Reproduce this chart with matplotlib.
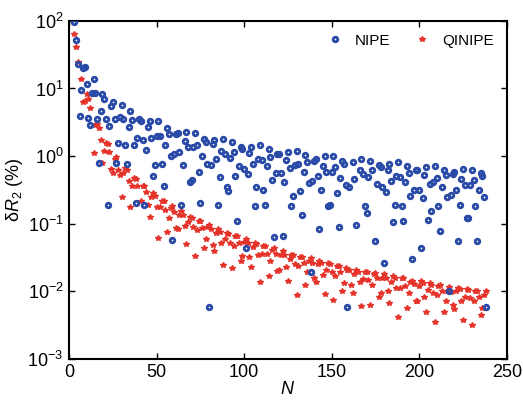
import matplotlib
matplotlib.use('Agg')
import matplotlib.pyplot as plt

plt.rcParams['font.family'] = ['Liberation Sans', 'DejaVu Sans']
plt.rcParams['mathtext.fontset'] = 'custom'
plt.rcParams['mathtext.rm'] = 'Liberation Sans'
plt.rcParams['mathtext.it'] = 'Liberation Sans:italic'

# --- dados (N, deltaR2 em %) ---
n_nipe = [3, 4, 5, 6, 7, 8, 9, 10, 11, 12, 13, 14, 15, 16, 17, 18, 19, 20,
          21, 22, 23, 24, 25, 26, 27, 28, 29, 30, 31, 32, 33, 34, 35, 36, 37,
          38, 39, 40, 41, 42, 43, 44, 45, 46, 47, 48, 49, 50, 51, 52, 53, 54,
          55, 56, 57, 58, 59, 60, 61, 62, 63, 64, 65, 66, 67, 68, 69, 70, 71,
          72, 73, 74, 75, 76, 77, 78, 79, 80, 81, 82, 83, 84, 85, 86, 87, 88,
          89, 90, 91, 92, 93, 94, 95, 96, 97, 98, 99, 100, 101, 102, 103, 104,
          105, 106, 107, 108, 109, 110, 111, 112, 113, 114, 115, 116, 117, 118,
          119, 120, 121, 122, 123, 124, 125, 126, 127, 128, 129, 130, 131, 132,
          133, 134, 135, 136, 137, 138, 139, 140, 141, 142, 143, 144, 145, 146,
          147, 148, 149, 150, 151, 152, 153, 154, 155, 156, 157, 158, 159, 160,
          162, 163, 164, 166, 167, 168, 169, 170, 171, 172, 173, 175, 176, 177,
          178, 179, 180, 181, 182, 183, 184, 185, 186, 187, 188, 189, 190, 191,
          192, 193, 194, 195, 196, 197, 198, 199, 200, 201, 202, 203, 204, 205,
          206, 207, 208, 209, 210, 211, 212, 213, 214, 215, 216, 217, 218, 219,
          220, 221, 222, 223, 224, 225, 226, 227, 228, 229, 230, 231, 232, 233,
          234, 235, 236, 237, 238]
nipe = [95, 52, 23, 3.9, 9.5, 20, 21, 11.5, 3.6, 2.9, 8.5, 14, 8.5, 3.5, 0.79,
        4.7, 8.3, 6.9, 3.5, 0.19, 2.75, 5.5, 6.2, 3.5, 0.79, 1.55, 3.8, 5.6,
        3.5, 1.45, 0.76, 2.7, 4.6, 3.4, 1.45, 0.20, 1.86, 3.5, 3.3, 1.7, 0.19,
        1.23, 2.7, 3.3, 1.86, 0.51, 0.74, 2.0, 3.3, 2.0, 0.76, 0.36, 1.48, 2.6,
        2.1, 1.0, 0.057, 1.07, 2.1, 2.2, 1.15, 0.19, 0.74, 1.66, 2.3, 1.35,
        0.41, 0.45, 1.38, 2.2, 1.48, 0.59, 0.20, 1.0, 1.8, 1.6, 0.76, 0.0059,
        0.74, 1.5, 1.7, 0.91, 0.19, 0.49, 1.2, 1.8, 1.07, 0.35, 0.30, 0.95, 1.6,
        1.15, 0.50, 0.11, 0.72, 1.35, 1.26, 0.65, 0.044, 0.54, 1.12, 1.38, 0.76,
        0.18, 0.35, 0.91, 1.45, 0.87, 0.32, 0.19, 0.72, 1.26, 0.98, 0.44, 0.063,
        0.56, 1.07, 1.07, 0.56, 0.066, 0.41, 0.87, 1.15, 0.66, 0.18, 0.26, 0.74,
        1.2, 0.76, 0.30, 0.135, 0.58, 1.05, 0.83, 0.40, 0.0195, 0.43, 0.85,
        0.91, 0.50, 0.083, 0.32, 0.72, 1.0, 0.59, 0.18, 0.19, 0.59, 1.0, 0.68,
        0.28, 0.089, 0.47, 0.85, 0.76, 0.37, 0.0058, 0.35, 0.83, 0.46, 0.095,
        0.62, 0.89, 0.55, 0.18, 0.145, 0.49, 0.85, 0.62, 0.056, 0.39, 0.74,
        0.69, 0.35, 0.026, 0.29, 0.62, 0.76, 0.43, 0.107, 0.19, 0.51, 0.81,
        0.49, 0.18, 0.11, 0.42, 0.72, 0.56, 0.26, 0.030, 0.32, 0.63, 0.63, 0.32,
        0.043, 0.24, 0.52, 0.69, 0.115, 0.38, 0.155, 0.42, 0.72, 0.47, 0.18,
        0.079, 0.35, 0.63, 0.52, 0.25, 0.010, 0.27, 0.54, 0.59, 0.32, 0.055,
        0.19, 0.46, 0.65, 0.37, 0.12, 0.123, 0.37, 0.63, 0.44, 0.18, 0.056,
        0.31, 0.56, 0.50, 0.245, 0.0058]

n_qinipe = [3, 4, 5, 7, 8, 9, 10, 11, 12, 14, 15, 16, 17, 18, 19, 20, 21, 22,
            23, 24, 25, 26, 27, 28, 29, 30, 31, 32, 33, 34, 35, 36, 37, 38, 39,
            41, 42, 43, 44, 45, 46, 47, 48, 49, 50, 51, 52, 53, 54, 55, 56, 57,
            58, 59, 60, 61, 62, 63, 64, 65, 66, 67, 68, 69, 70, 71, 72, 73, 74,
            75, 76, 77, 78, 79, 80, 81, 82, 83, 84, 85, 86, 87, 88, 89, 90, 91,
            92, 93, 94, 95, 96, 97, 98, 99, 100, 101, 102, 103, 104, 105, 106,
            107, 108, 109, 110, 111, 112, 113, 114, 115, 116, 117, 118, 119,
            120, 121, 122, 123, 124, 125, 126, 127, 128, 129, 130, 131, 132,
            133, 134, 135, 136, 137, 138, 139, 140, 141, 142, 143, 144, 145,
            146, 147, 148, 149, 150, 151, 152, 153, 154, 155, 156, 157, 158,
            159, 160, 161, 162, 163, 164, 165, 166, 167, 168, 169, 170, 171,
            172, 173, 174, 175, 176, 177, 178, 179, 180, 181, 182, 183, 184,
            185, 186, 187, 188, 189, 190, 191, 192, 193, 194, 195, 196, 197,
            198, 199, 200, 201, 202, 203, 204, 205, 206, 207, 208, 209, 210,
            211, 212, 213, 214, 215, 216, 217, 218, 219, 220, 221, 222, 223,
            224, 225, 226, 227, 228, 229, 230, 231, 232, 233, 234, 235, 236,
            237, 238]
qinipe = [65, 41, 25, 14, 6.3, 6.6, 8.3, 7.1, 5.1, 1.12, 2.9, 2.95, 2.6, 1.74,
          0.79, 1.2, 1.55, 1.5, 1.15, 0.65, 0.56, 0.91, 0.98, 0.62, 0.52, 0.245,
          0.56, 0.66, 0.62, 0.43, 0.178, 0.355, 0.47, 0.46, 0.36, 0.22, 0.355,
          0.36, 0.295, 0.186, 0.126, 0.245, 0.28, 0.257, 0.178, 0.062, 0.174,
          0.22, 0.214, 0.162, 0.076, 0.123, 0.17, 0.182, 0.151, 0.085, 0.083,
          0.135, 0.155, 0.135, 0.091, 0.050, 0.107, 0.126, 0.12, 0.089, 0.033,
          0.081, 0.11, 0.11, 0.085, 0.044, 0.059, 0.089, 0.095, 0.083, 0.049,
          0.040, 0.072, 0.083, 0.076, 0.052, 0.0245, 0.059, 0.074, 0.071, 0.052,
          0.0224, 0.046, 0.065, 0.066, 0.052, 0.028, 0.033, 0.054, 0.059, 0.052,
          0.032, 0.023, 0.045, 0.052, 0.050, 0.035, 0.0135, 0.036, 0.047, 0.047,
          0.036, 0.0166, 0.028, 0.041, 0.044, 0.036, 0.020, 0.021, 0.035, 0.040,
          0.035, 0.023, 0.014, 0.030, 0.035, 0.034, 0.025, 0.0089, 0.024, 0.032,
          0.032, 0.026, 0.0126, 0.019, 0.028, 0.031, 0.026, 0.0155, 0.0138,
          0.025, 0.028, 0.026, 0.0174, 0.0091, 0.021, 0.026, 0.025, 0.019,
          0.0074, 0.017, 0.0234, 0.024, 0.0195, 0.0102, 0.0132, 0.022, 0.021,
          0.021, 0.0123, 0.0095, 0.0178, 0.021, 0.0195, 0.0138, 0.006, 0.015,
          0.0195, 0.0195, 0.0148, 0.0063, 0.0123, 0.0178, 0.0186, 0.0155, 0.0083,
          0.0095, 0.0155, 0.0178, 0.0155, 0.0102, 0.0068, 0.0135, 0.0166, 0.0155,
          0.0112, 0.0041, 0.0112, 0.0155, 0.0155, 0.012, 0.0056, 0.0093, 0.0135,
          0.0141, 0.0129, 0.0072, 0.0072, 0.012, 0.0141, 0.0132, 0.0083, 0.005,
          0.0105, 0.0132, 0.0126, 0.0093, 0.0035, 0.0089, 0.012, 0.0123, 0.010,
          0.005, 0.0072, 0.0102, 0.0117, 0.0098, 0.0063, 0.0055, 0.010, 0.0112,
          0.0107, 0.0072, 0.0037, 0.0083, 0.0107, 0.0105, 0.0079, 0.0032, 0.0071,
          0.010, 0.0102, 0.0083, 0.0045, 0.0056, 0.0089, 0.0102]

cor_azul = '#2a4aa8'
cor_vermelha = '#e5332a'

fig = plt.figure(figsize=(5.23, 4.01), dpi=100)
ax = fig.add_axes([0.132, 0.105, 0.837, 0.843])

# circulos azuis "cheios" com furo pequeno, estrelas vermelhas pequenas
ax.plot(n_nipe, nipe, 'o', ls='none', mfc='none', mec=cor_azul, mew=2.0,
        ms=3.3, label='NIPE', zorder=3)
ax.plot(n_qinipe, qinipe, '*', ls='none', color=cor_vermelha, ms=4.0,
        mew=1.0, label='QINIPE', zorder=2)

ax.set_yscale('log')
ax.set_xlim(0, 250)
ax.set_ylim(1e-3, 1e2)
ax.set_xticks([0, 50, 100, 150, 200, 250])
ax.minorticks_off()
ax.tick_params(direction='in', top=True, right=True, length=4, width=1,
               labelsize=13, pad=4)
for s in ax.spines.values():
    s.set_linewidth(1.5)

ax.set_xlabel('$N$', fontsize=13, labelpad=0)
ax.set_ylabel(r'δ$R_2$ (%)', fontsize=13, labelpad=2)

ax.legend(loc='upper right', ncol=2, frameon=False, fontsize=11,
          handletextpad=0.8, columnspacing=1.6, handlelength=1.0,
          bbox_to_anchor=(1.0, 1.0), borderaxespad=0.45)

fig.savefig('out.png', dpi=100)
